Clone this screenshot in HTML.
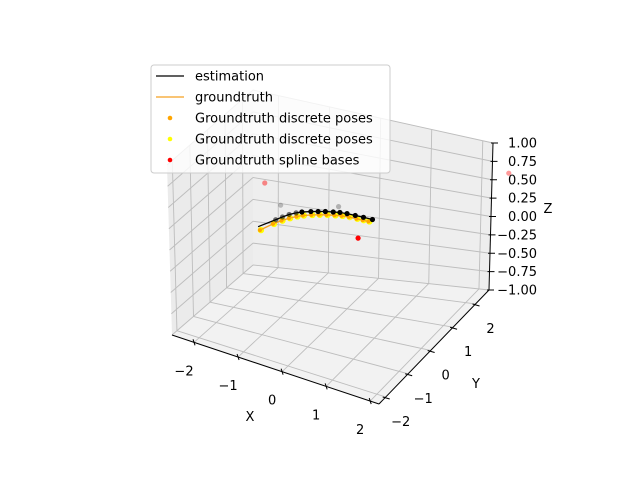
<!DOCTYPE html>
<html><head><meta charset="utf-8"><style>
body{margin:0;background:#fff}
svg{display:block;font-family:"DejaVu Sans","Liberation Sans",sans-serif}
</style></head><body>
<svg id="chart" width="640" height="480" viewBox="0 0 640 480" xmlns="http://www.w3.org/2000/svg">
<g id="panes"></g>
<g id="grid"></g>
<g id="axes"></g>
<g id="series"></g>
<g id="legend" font-size="13">
<rect x="151" y="65" width="239" height="108" rx="3" fill="#fff" fill-opacity="0.8" stroke="#ccc"/>
<g><line x1="156" y1="76" x2="184" y2="76" stroke="#000" stroke-width="1.2"/><text x="195" y="80.5">estimation</text></g>
<g><line x1="156" y1="97" x2="184" y2="97" stroke="#f5a020" stroke-width="1.2"/><text x="195" y="101.5">groundtruth</text></g>
<g><circle cx="170" cy="118" r="2.3" fill="orange"/><text x="195" y="122.5">Groundtruth discrete poses</text></g>
<g><circle cx="170" cy="139" r="2.3" fill="yellow"/><text x="195" y="143.5">Groundtruth discrete poses</text></g>
<g><circle cx="170" cy="160" r="2.3" fill="red"/><text x="195" y="164.5">Groundtruth spline bases</text></g>
</g>
</svg>
<script>
const xTicks=[-2,-1,0,1,2];
const yTicks=[-2,-1,0,1,2];
const zTicks=[-1,-0.75,-0.5,-0.25,0,0.25,0.5,0.75,1];
const zTickLabels=["−1.00","−0.75","−0.50","−0.25","0.00","0.25","0.50","0.75","1.00"];
const estX=[-1.49,-1.33,-1.27,-1.205,-1.12,-1.04,-0.90,-0.78,-0.66,-0.52,-0.40,-0.26,-0.09,0.08,0.27];
const estY=[0.08,0.62,0.83,1.02,1.17,1.27,1.38,1.45,1.52,1.57,1.61,1.62,1.61,1.60,1.58];
const estZ=[0,0,0,0,0,0,0,0,0,0,0,0,0,0,0];
const gtX=[-1.46,-1.36,-1.28,-1.20,-1.11,-1.02,-0.89,-0.77,-0.64,-0.50,-0.37,-0.23,-0.07,0.06,0.18];
const gtY=[0.10,0.55,0.80,1.00,1.16,1.27,1.38,1.46,1.53,1.58,1.62,1.63,1.62,1.61,1.60];
const gtZ=[-0.04,-0.04,-0.04,-0.04,-0.04,-0.04,-0.04,-0.04,-0.04,-0.04,-0.04,-0.04,-0.04,-0.04,-0.04];
const splX=[-1.56,-1.33,-0.53,0.37,2.48];
const splY=[0.64,0.89,1.87,0.64,2.70];
const splZ=[0.4,0.12,0.0,0.0,0.6];
const splAlpha=[0.45,0.4,0.4,1,0.4];
const splColor=["red","#666","#555","red","red"];
const xmin=-2.5,xmax=2.2,ymin=-2.3,ymax=2.6,zmin=-1,zmax=1;
const C={'000':[172,335],'100':[379,404],'010':[253,265],'110':[489,290],'001':[167,165],'101':[380,238],'011':[253,90],'111':[493,143]};
function P(x,y,z){const u=(x-xmin)/(xmax-xmin),v=(y-ymin)/(ymax-ymin),w=(z-zmin)/(zmax-zmin);let sx=0,sy=0;
for(const a of [0,1])for(const b of [0,1])for(const c of [0,1]){const k=(a?u:1-u)*(b?v:1-v)*(c?w:1-w);const p=C[''+a+b+c];sx+=k*p[0];sy+=k*p[1];}return [sx,sy];}
const NS='http://www.w3.org/2000/svg';
function mk(tag,attrs,parent){const e=document.createElementNS(NS,tag);for(const k in attrs)e.setAttribute(k,attrs[k]);parent.appendChild(e);return e;}
function poly(pts){return pts.map(p=>p.join(',')).join(' ');}
const panes=document.getElementById('panes');
let e;
e=mk('polygon',{points:poly([P(xmin,ymin,zmin),P(xmax,ymin,zmin),P(xmax,ymax,zmin),P(xmin,ymax,zmin)]),fill:'#f2f2f2'},panes);


e=mk('polygon',{points:poly([P(xmin,ymin,zmin),P(xmin,ymax,zmin),P(xmin,ymax,zmax),P(xmin,ymin,zmax)]),fill:'#ebebeb'},panes);


e=mk('polygon',{points:poly([P(xmin,ymax,zmin),P(xmax,ymax,zmin),P(xmax,ymax,zmax),P(xmin,ymax,zmax)]),fill:'#eeeeee'},panes);


const grid=document.getElementById('grid');
function gl(a,b){const l=mk('line',{x1:a[0],y1:a[1],x2:b[0],y2:b[1],stroke:'#bdbdbd','stroke-width':0.9},grid);

}
xTicks.forEach(t=>{gl(P(t,ymin,zmin),P(t,ymax,zmin));gl(P(t,ymax,zmin),P(t,ymax,zmax));});
yTicks.forEach(t=>{gl(P(xmin,t,zmin),P(xmax,t,zmin));gl(P(xmin,t,zmin),P(xmin,t,zmax));});
zTicks.forEach(t=>{gl(P(xmin,ymin,t),P(xmin,ymax,t));gl(P(xmin,ymax,t),P(xmax,ymax,t));});
const axes=document.getElementById('axes');
function al(a,b,name){const l=mk('line',{x1:a[0],y1:a[1],x2:b[0],y2:b[1],stroke:'#000','stroke-width':1},axes);

}
function tx(x,y,s,anchor,name){const t=mk('text',{x:x,y:y,'font-size':13,'text-anchor':anchor},axes);t.textContent=s;

}
al(P(xmin,ymin,zmin),P(xmax,ymin,zmin),'x-axis-line');
al(P(xmax,ymin,zmin),P(xmax,ymax,zmin),'y-axis-line');
al(P(xmax,ymax,zmin),P(xmax,ymax,zmax),'z-axis-line');
xTicks.forEach(t=>{const p=P(t,ymin,zmin);al([p[0]-1,p[1]-3],[p[0]+1,p[1]+3],'x-tick');tx(p[0]-10,p[1]+33,t<0?'−'+(-t):''+t,'middle','x-tick-label');});
yTicks.forEach(t=>{const p=P(xmax,t,zmin);al([p[0]-3,p[1]],[p[0]+4,p[1]+2],'y-tick');tx(p[0]+15,p[1]+29,t<0?'−'+(-t):''+t,'middle','y-tick-label');});
zTicks.forEach((t,i)=>{const p=P(xmax,ymax,t);al([p[0]-2,p[1]],[p[0]+5,p[1]],'z-tick');tx(537,p[1]+4.5,zTickLabels[i],'end','z-tick-label');});
tx(250,421,'X','middle','x-axis-title');
tx(476,388,'Y','middle','y-axis-title');
tx(548,213,'Z','middle','z-axis-title');
const series=document.getElementById('series');
const gtPts=gtX.map((x,i)=>P(x,gtY[i],gtZ[i]));
const estPts=estX.map((x,i)=>P(x,estY[i],estZ[i]));
gtPts.forEach((p,i)=>{const c=mk('circle',{cx:p[0]+1,cy:p[1],r:3.2,fill:'yellow'},series);

});
e=mk('polyline',{points:poly(gtPts),fill:'none',stroke:'#f5a020','stroke-width':1.3},series);


gtPts.forEach((p,i)=>{const c=mk('circle',{cx:p[0],cy:p[1],r:2,fill:'orange'},series);

});
e=mk('polyline',{points:poly(estPts),fill:'none',stroke:'#000','stroke-width':1.3},series);


estPts.slice(1).forEach((p,i)=>{const c=mk('circle',{cx:p[0],cy:p[1],r:2.6,fill:'#000','fill-opacity':i<4?0.55:1},series);

});
splX.forEach((x,i)=>{const p=P(x,splY[i],splZ[i]);const c=mk('circle',{cx:p[0],cy:p[1],r:2.6,fill:splColor[i],'fill-opacity':splAlpha[i]},series);

});
</script>
</body></html>
